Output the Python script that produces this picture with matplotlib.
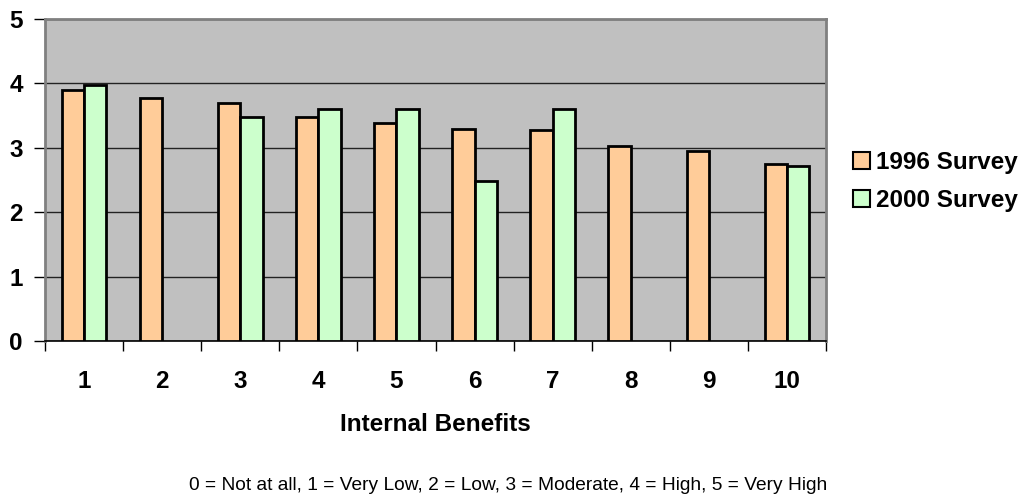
import numpy as np
import matplotlib
matplotlib.use("Agg")
import matplotlib.pyplot as plt
from matplotlib.patches import Patch

plt.rcParams['font.family'] = ['Liberation Sans', 'DejaVu Sans']

categories = ['1', '2', '3', '4', '5', '6', '7', '8', '9', '10']
survey_1996 = [3.89, 3.77, 3.70, 3.48, 3.39, 3.29, 3.28, 3.03, 2.95, 2.75]
survey_2000 = [3.98, np.nan, 3.48, 3.60, 3.60, 2.49, 3.60, np.nan, np.nan, 2.72]
series_names = ['1996 Survey', '2000 Survey']
y_ticks = [0, 1, 2, 3, 4, 5]
x_label = 'Internal Benefits'
scale_note = '0 = Not at all, 1 = Very Low, 2 = Low, 3 = Moderate, 4 = High, 5 = Very High'

c_1996 = '#FFCC99'
c_2000 = '#CCFFCC'
fs = 17.5

fig = plt.figure(figsize=(10.27, 4.97), dpi=100)
ax = fig.add_axes([45/1027, 1 - 341/497, (826 - 45)/1027, (341 - 19)/497])
ax.set_facecolor('#C0C0C0')

x = np.arange(len(categories))
w = 0.285
ax.bar(x - w/2, survey_1996, w, color=c_1996, edgecolor='black', linewidth=2, zorder=3)
ax.bar(x + w/2, survey_2000, w, color=c_2000, edgecolor='black', linewidth=2, zorder=3)

ax.set_xlim(-0.5, len(categories) - 0.5)
ax.set_ylim(0, 5)
ax.set_yticks(y_ticks)
ax.set_yticklabels([str(t) for t in y_ticks], fontsize=fs, fontweight='bold')
ax.yaxis.grid(True, color='#222222', linewidth=1, zorder=1)
ax.set_axisbelow(True)

ax.set_xticks(x)
ax.set_xticklabels(categories, fontsize=fs, fontweight='bold')
ax.set_xticks(np.arange(-0.5, len(categories)), minor=True)
ax.tick_params(axis='x', which='major', length=0, pad=21)
ax.tick_params(axis='x', which='minor', length=7, width=1, color='black', direction='out')
ax.tick_params(axis='y', length=8, width=1, color='black', direction='out', pad=8)

for side in ['top', 'right', 'left']:
    ax.spines[side].set_color('#808080')
    ax.spines[side].set_linewidth(2)
ax.spines['bottom'].set_color('black')
ax.spines['bottom'].set_linewidth(1.2)

ax.set_xlabel(x_label, fontsize=fs, fontweight='bold', labelpad=14.5)

handles = [Patch(facecolor=c_1996, edgecolor='black', linewidth=1.5),
           Patch(facecolor=c_2000, edgecolor='black', linewidth=1.5)]
fig.legend(handles, series_names, loc='center left', bbox_to_anchor=(853/1027, 1 - 181.5/497),
           frameon=False, prop={'size': fs, 'weight': 'bold'},
           handlelength=0.7, handleheight=0.65, handletextpad=0.25, labelspacing=0.62,
           borderpad=0, borderaxespad=0)

fig.text(508/1027, 1 - 485/497, scale_note, ha='center', va='center', fontsize=13.8)

fig.savefig('out.png', dpi=100)
